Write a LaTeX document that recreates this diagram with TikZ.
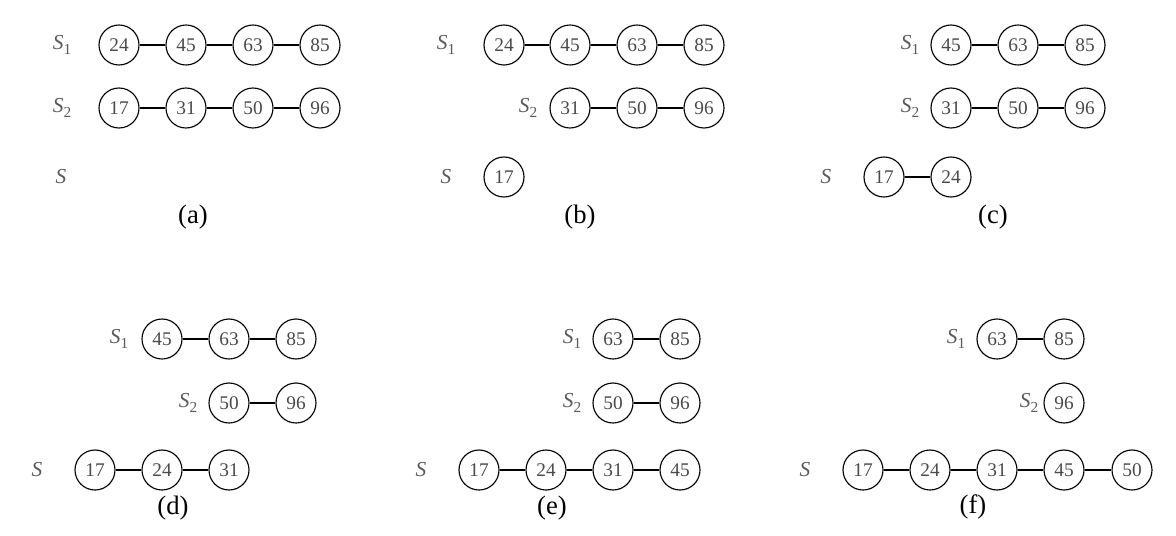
\documentclass[tikz,border=0pt]{standalone}
\usepackage{fontspec}
\setmainfont{Liberation Serif}
\usetikzlibrary{positioning}
\definecolor{numGray}{HTML}{4A4A4A}
\definecolor{lblGray}{HTML}{5A5A5A}
\newcommand{\seqlab}[1]{\textit{S}\raisebox{-0.45ex}{\fontsize{11.5}{13}\selectfont #1}}

\begin{document}
\begin{tikzpicture}[x=0.75pt,y=-0.75pt,
    key/.style={circle,draw=black,line width=0.85pt,minimum size=30pt,inner sep=0pt,
                font=\fontsize{14.5}{16}\selectfont,text=numGray},
    seq/.style={font=\fontsize{16}{18}\selectfont,text=lblGray},
    subcap/.style={font=\fontsize{20}{24}\selectfont},
    link/.style={line width=0.85pt}]
  \useasboundingbox (0,0) rectangle (1176,535);
  % (a)
  \node[seq] (aS1) at (62,45) {\seqlab{1}};
  \node[seq] (aS2) at (62,108) {\seqlab{2}};
  \node[seq] (aS) at (61,177) {\textit{S}};
  \node[key] (a11) at (119,45) {24};
  \node[key] (a12) at (186,45) {45};
  \node[key] (a13) at (253,45) {63};
  \node[key] (a14) at (320,45) {85};
  \node[key] (a21) at (119,108) {17};
  \node[key] (a22) at (186,108) {31};
  \node[key] (a23) at (253,108) {50};
  \node[key] (a24) at (320,108) {96};
  \draw[link] (a11) -- (a12) -- (a13) -- (a14);
  \draw[link] (a21) -- (a22) -- (a23) -- (a24);
  \node[subcap] (capa) at (193,217) {(a)};
  % (b)
  \node[seq] (bS1) at (446,45) {\seqlab{1}};
  \node[seq] (bS2) at (528,108) {\seqlab{2}};
  \node[seq] (bS) at (446,177) {\textit{S}};
  \node[key] (b11) at (504,45) {24};
  \node[key] (b12) at (570,45) {45};
  \node[key] (b13) at (637,45) {63};
  \node[key] (b14) at (704,45) {85};
  \node[key] (b21) at (570,108) {31};
  \node[key] (b22) at (637,108) {50};
  \node[key] (b23) at (704,108) {96};
  \node[key] (b31) at (504,177) {17};
  \draw[link] (b11) -- (b12) -- (b13) -- (b14);
  \draw[link] (b21) -- (b22) -- (b23);
  \node[subcap] (capb) at (580,217) {(b)};
  % (c)
  \node[seq] (cS1) at (910,45) {\seqlab{1}};
  \node[seq] (cS2) at (910,108) {\seqlab{2}};
  \node[seq] (cS) at (826,177) {\textit{S}};
  \node[key] (c11) at (951,45) {45};
  \node[key] (c12) at (1018,45) {63};
  \node[key] (c13) at (1085,45) {85};
  \node[key] (c21) at (951,108) {31};
  \node[key] (c22) at (1018,108) {50};
  \node[key] (c23) at (1085,108) {96};
  \node[key] (c31) at (884,177) {17};
  \node[key] (c32) at (951,177) {24};
  \draw[link] (c11) -- (c12) -- (c13);
  \draw[link] (c21) -- (c22) -- (c23);
  \draw[link] (c31) -- (c32);
  \node[subcap] (capc) at (993,217) {(c)};
  % (d)
  \node[seq] (dS1) at (119,339) {\seqlab{1}};
  \node[seq] (dS2) at (188,403) {\seqlab{2}};
  \node[seq] (dS) at (37,470) {\textit{S}};
  \node[key] (d11) at (162,339) {45};
  \node[key] (d12) at (229,339) {63};
  \node[key] (d13) at (296,339) {85};
  \node[key] (d21) at (229,403) {50};
  \node[key] (d22) at (296,403) {96};
  \node[key] (d31) at (95,470) {17};
  \node[key] (d32) at (162,470) {24};
  \node[key] (d33) at (229,470) {31};
  \draw[link] (d11) -- (d12) -- (d13);
  \draw[link] (d21) -- (d22);
  \draw[link] (d31) -- (d32) -- (d33);
  \node[subcap] (capd) at (173,508) {(d)};
  % (e)
  \node[seq] (eS1) at (572,339) {\seqlab{1}};
  \node[seq] (eS2) at (572,403) {\seqlab{2}};
  \node[seq] (eS) at (421,470) {\textit{S}};
  \node[key] (e11) at (613,339) {63};
  \node[key] (e12) at (680,339) {85};
  \node[key] (e21) at (613,403) {50};
  \node[key] (e22) at (680,403) {96};
  \node[key] (e31) at (479,470) {17};
  \node[key] (e32) at (546,470) {24};
  \node[key] (e33) at (613,470) {31};
  \node[key] (e34) at (680,470) {45};
  \draw[link] (e11) -- (e12);
  \draw[link] (e21) -- (e22);
  \draw[link] (e31) -- (e32) -- (e33) -- (e34);
  \node[subcap] (cape) at (552,508) {(e)};
  % (f)
  \node[seq] (fS1) at (956,339) {\seqlab{1}};
  \node[seq] (fS2) at (1029,403) {\seqlab{2}};
  \node[seq] (fS) at (805,470) {\textit{S}};
  \node[key] (f11) at (997,339) {63};
  \node[key] (f12) at (1064,339) {85};
  \node[key] (f21) at (1064,403) {96};
  \node[key] (f31) at (863,470) {17};
  \node[key] (f32) at (930,470) {24};
  \node[key] (f33) at (997,470) {31};
  \node[key] (f34) at (1064,470) {45};
  \node[key] (f35) at (1132,470) {50};
  \draw[link] (f11) -- (f12);
  \draw[link] (f31) -- (f32) -- (f33) -- (f34) -- (f35);
  \node[subcap] (capf) at (973,507) {(f)};
\end{tikzpicture}
\end{document}
